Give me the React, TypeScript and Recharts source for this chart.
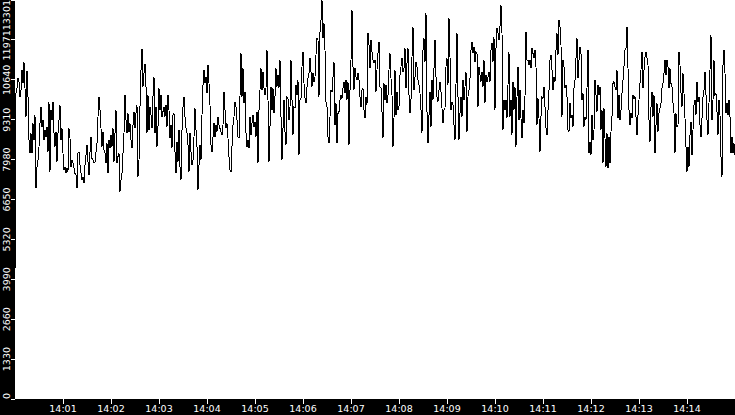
import React from 'react';
import { LineChart, Line, XAxis, YAxis, CartesianGrid } from 'recharts';

// sampling: one reading every 1.25 s, starting 14:00:00
const stepSeconds = 1.25;

const seg1400 = [
  4200, 10190, 10360, 10690, 10580, 10080, 10300, 10970, 10520, 11230,
  10360, 9410, 10930, 10080, 8630, 8190, 8860, 8190, 9190, 8630,
  9470, 7020, 7740, 7970, 8410, 9190, 9740, 9080, 9300, 8630,
  8970, 8740, 9080, 8240, 9910, 7580, 9630, 9300, 9910, 8860,
  8410, 8910, 7910, 8860, 9300, 9800, 8630, 9020, 8190, 7630,
  7740, 7520, 7690, 7580, 9020, 8690, 7740, 7970, 7860, 7690,
  7520, 7470, 7020, 8190, 8240, 7800, 7520, 7300, 7410, 7190,
  7800, 8130, 8470, 7910, 7470, 8240, 8740, 8020, 7970, 7860,
  7910, 8240, 8520, 9410, 10080, 9630, 9020, 8410, 8910, 8300,
  8190, 7860, 8520, 7520, 8630, 8360, 8800, 8410, 9020, 7910,
  8860, 9630, 7860, 8080, 8190, 6910, 7300, 7520, 8190, 8860,
  10130, 9300, 8860, 9520, 8910, 9190, 8630, 8360, 9130, 9580,
];

const seg1402 = [
  9020, 9520, 9800, 7410, 7970, 9740, 10970, 11670, 10410, 10860,
  11170, 10410, 8860, 10130, 8970, 9740, 9470, 9020, 10080, 10720,
  8860, 9740, 8410, 9080, 10360, 9630, 10130, 9410, 9580, 9740,
  9410, 9800, 9080, 10130, 9630, 8690, 9130, 8360, 9470, 9520,
  8240, 7520, 8580, 7910, 8970, 7740, 7300, 8970, 9740, 10080,
  9410, 9020, 8860, 8470, 7580, 8860, 8240, 7800, 7970, 8740,
  9690, 8970, 8410, 6970, 7800, 8470, 7970, 9470, 10470, 10970,
  10520, 10740, 10190, 11130, 10520, 9800, 8470, 8240, 8740, 9190,
  8740, 9130, 8910, 9410, 9130, 9020, 8910, 8800, 9130, 10240,
  9630, 9020, 9190, 8690, 8080, 7630, 7580, 8410, 9130, 9410,
  9910, 9740, 9300, 8740, 8690, 10080, 11520, 10080, 11020, 9860,
  10240, 8860, 8410, 8630, 8360, 9410, 8800, 9190, 9470, 9080,
];

const seg1405 = [
  9240, 8740, 9580, 7860, 9630, 10300, 11020, 10300, 10910, 10360,
  10130, 10360, 11630, 9970, 7910, 9080, 10410, 9630, 10360, 9520,
  10080, 11020, 10410, 10800, 10360, 11300, 9410, 7970, 9020, 9970,
  8910, 8470, 10080, 10020, 9300, 9740, 11300, 9970, 8800, 9740,
  9690, 10470, 10130, 10630, 8130, 9970, 10020, 11080, 11580, 10520,
  10020, 9860, 10410, 10690, 10860, 11360, 10910, 10410, 10860, 10580,
  10740, 11470, 12020, 11970, 10080, 12240, 12630, 13300, 12020, 12520,
  11630, 9910, 9740, 8740, 8520, 9410, 10300, 10240, 10740, 11240,
  9130, 9860, 8520, 9520, 9580, 9970, 10130, 10020, 10360, 10580,
  10190, 10630, 9970, 10580, 8470, 10300, 11300, 12970, 11080, 10300,
  11020, 10740, 10630, 10860, 10630, 10080, 9740, 10300, 10360, 9630,
  9360, 10080, 9800, 12190, 11800, 11020, 11970, 11580, 11300, 11190,
];

const seg1407 = [
  11300, 10240, 10970, 11520, 11910, 10410, 10360, 9580, 8690, 10520,
  9970, 10470, 9860, 10130, 10970, 11520, 10690, 10130, 8410, 9360,
  10970, 9470, 10240, 9630, 9740, 10800, 11080, 11360, 10910, 11020,
  11690, 10360, 11190, 11690, 10130, 9520, 9970, 11410, 12410, 10300,
  10740, 11240, 11080, 10630, 10470, 10190, 9630, 8860, 11630, 12020,
  11240, 12860, 9580, 8520, 9470, 10240, 9080, 10630, 9970, 11020,
  11970, 10740, 10080, 9910, 10300, 10580, 10240, 9690, 9190, 9630,
  9690, 11080, 11360, 10470, 12690, 11410, 9630, 9910, 9800, 9130,
  8630, 10470, 12190, 10080, 8630, 9520, 10080, 9410, 10630, 9970,
  10410, 10910, 8910, 10080, 10300, 10690, 11630, 11910, 11520, 11740,
  11240, 11580, 11520, 9740, 11080, 10800, 10580, 10910, 10410, 11300,
  9860, 10800, 10580, 10740, 10910, 10580, 11630, 11860, 11240, 12080,
];

const seg1410 = [
  9630, 11690, 12360, 12190, 11970, 12410, 13130, 12190, 8970, 9970,
  9630, 9970, 9360, 10470, 11580, 9410, 9970, 8800, 10580, 9630,
  10410, 8410, 10080, 11080, 9300, 10300, 9360, 8690, 9630, 9190,
  10080, 12240, 11300, 11300, 11130, 11300, 11020, 11690, 11520, 11360,
  11630, 11080, 9130, 10020, 9360, 8240, 9410, 10080, 10020, 10410,
  9740, 9020, 8800, 9630, 10300, 11300, 11470, 10970, 10300, 10740,
  10580, 11630, 12190, 11470, 12630, 12410, 11800, 9410, 11300, 11080,
  10360, 10470, 10080, 8970, 8910, 9860, 9360, 9470, 9080, 10360,
  10630, 11360, 12020, 10690, 11300, 11740, 11520, 9970, 10190, 9080,
  9410, 9300, 10360, 11630, 8190, 8580, 8130, 9470, 8630, 8970,
  10630, 10130, 9580, 10470, 10130, 10410, 8970, 9630, 7860, 9690,
  8690, 7740, 8860, 7690, 8740, 7860, 8910, 9410, 10520, 10580,
];

const seg1412 = [
  10410, 10300, 10970, 9360, 10130, 9300, 9630, 10190, 10630, 11080,
  11630, 11690, 12410, 11020, 9630, 9130, 9520, 9360, 10130, 10020,
  10080, 9410, 8800, 9470, 9970, 10520, 10970, 11580, 10360, 10970,
  11410, 11580, 11360, 11130, 9300, 8580, 9740, 10240, 9410, 10130,
  8190, 9130, 9860, 8910, 9520, 9690, 9860, 10360, 10520, 10860,
  11300, 10800, 11300, 11080, 10360, 11020, 10520, 10410, 9860, 9520,
  8190, 9520, 9080, 9130, 11580, 11130, 10190, 9740, 10860, 10190,
  9360, 8410, 7580, 8410, 7740, 8800, 9240, 8130, 8970, 9800,
  9970, 9470, 10580, 9910, 10080, 9130, 8740, 9360, 10080, 10300,
  10910, 10130, 9300, 8800, 9860, 10970, 12130, 9300, 9970, 11300,
  10130, 10190, 9580, 8800, 9970, 9470, 8080, 7410, 11130, 11630,
  10860, 9520, 9860, 9470, 9970, 9410, 8190, 8740, 8190, 8520,
  8130,
];

const yTicks = [0, 1330, 2660, 3990, 5320, 6650, 7980, 9310, 10640, 11971, 13301];
const yTickLabels = ['0', '1330', '2660', '3990', '5320', '6650', '7980', '9310', '10640', '11971', '13301'];
const xTicks = [60, 120, 180, 240, 300, 360, 420, 480, 540, 600, 660, 720, 780, 840];
const xTickLabels = ['14:01', '14:02', '14:03', '14:04', '14:05', '14:06', '14:07', '14:08', '14:09', '14:10', '14:11', '14:12', '14:13', '14:14'];

const allValues = [...seg1400, ...seg1402, ...seg1405, ...seg1407, ...seg1410, ...seg1412];
const data = allValues.map((v, i) => ({ t: i * stepSeconds, v }));

const W = 735;
const H = 415;
const AXIS_W = 15;
const AXIS_H = 16;
const PLOT_BOTTOM = H - AXIS_H;
const FONT = 'DejaVu Sans';
const Y_FONT_SIZE = 9.5;
const DIGIT_W = 0.636 * Y_FONT_SIZE;

const YTick = (props: any) => {
  const { y, payload } = props;
  const idx = yTicks.indexOf(payload.value);
  const label = idx >= 0 ? yTickLabels[idx] : String(payload.value);
  const len = label.length * DIGIT_W;
  const topLen = yTickLabels[yTickLabels.length - 1].length * DIGIT_W;
  const bx = 10;
  let anchor: 'start' | 'middle' | 'end' = 'middle';
  let ay = y;
  if (idx === yTicks.length - 1) {
    anchor = 'end';
    ay = 0;
  } else if (payload.value === 0) {
    anchor = 'start';
    ay = PLOT_BOTTOM;
  } else if (y - len / 2 < topLen) {
    anchor = 'end';
    ay = topLen;
  }
  return (
    <text
      x={bx}
      y={ay}
      transform={`rotate(-90, ${bx}, ${ay})`}
      textAnchor={anchor}
      fill="#ffffff"
      fontSize={Y_FONT_SIZE}
      fontFamily={FONT}
    >
      {label}
    </text>
  );
};

export default function App() {
  return (
    <div style={{ position: 'fixed', left: 0, top: 0, width: W, height: H, background: '#000000' }}>
      <LineChart width={W} height={H} data={data} margin={{ top: 0, right: 0, bottom: 0, left: 0 }}>
        <CartesianGrid fill="#ffffff" horizontal={false} vertical={false} stroke="none" />
        <XAxis
          dataKey="t"
          type="number"
          domain={[0, 900]}
          ticks={xTicks}
          interval={0}
          height={AXIS_H}
          axisLine={false}
          tickSize={5}
          tickMargin={1.5}
          tickLine={{ stroke: '#ffffff', shapeRendering: 'crispEdges' }}
          tick={{ fill: '#ffffff', fontSize: 9.5, fontFamily: FONT }}
          tickFormatter={(t: number) => {
            const i = xTicks.indexOf(t);
            return i >= 0 ? xTickLabels[i] : '';
          }}
        />
        <YAxis
          type="number"
          domain={[0, 13301]}
          ticks={yTicks}
          interval={0}
          width={AXIS_W}
          axisLine={false}
          tickSize={4}
          tickLine={{ stroke: '#ffffff', shapeRendering: 'crispEdges' }}
          tick={<YTick />}
          allowDataOverflow
        />
        <Line
          type="linear"
          dataKey="v"
          stroke="#000000"
          strokeWidth={1}
          shapeRendering="crispEdges"
          dot={false}
          activeDot={false}
          isAnimationActive={false}
        />
      </LineChart>
    </div>
  );
}
